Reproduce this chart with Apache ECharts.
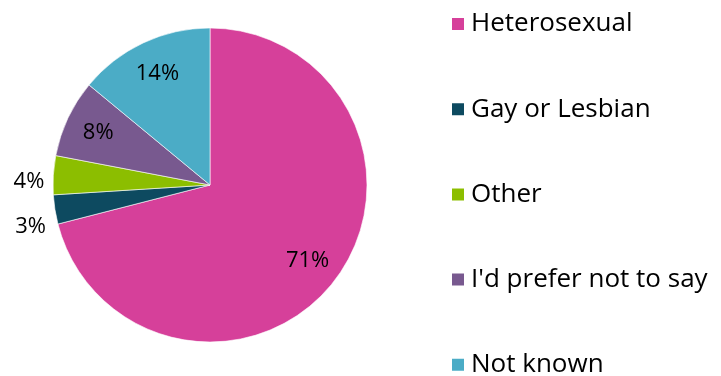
<!DOCTYPE html>
<html>
<head>
<meta charset="utf-8">
<script src="https://cdn.jsdelivr.net/npm/echarts@6/dist/echarts.min.js"></script>
<style>
  html, body { margin: 0; padding: 0; background: #fff; }
  #chart { width: 721px; height: 376px; }
</style>
</head>
<body>
<div id="chart"></div>
<script>
// Sexual orientation breakdown (percent)
const categories = ['Heterosexual', 'Gay or Lesbian', 'Other', "I'd prefer not to say", 'Not known'];
const values = [71, 3, 4, 8, 14];
const colors = ['#D6409A', '#0D4A60', '#8CBE00', '#78598F', '#4BACC6'];
// slices whose label sits inside the wedge; the rest are labelled outside
const insideLabel = [true, false, false, true, true];
// vertical nudge for the outside labels so the two small ones spread apart
const outsideLabelDy = [0, 17, 7, 0, 0];

const FONT = '"Open Sans", "DejaVu Sans", sans-serif';
const center = [210, 185];
const R = 157;

const chart = echarts.init(document.getElementById('chart'), null, { renderer: 'canvas' });

const pieData = categories.map((name, i) => ({
  name,
  value: values[i],
  itemStyle: { color: colors[i] },
  label: { show: !insideLabel[i] }
}));

// Transparent ring used only to place inner labels toward the rim
const labelData = categories.map((name, i) => ({
  name,
  value: values[i],
  itemStyle: { color: 'rgba(0,0,0,0)' },
  label: { show: insideLabel[i] }
}));

chart.setOption({
  animation: false,
  legend: {
    orient: 'vertical',
    left: 450,
    top: 11,
    height: 372,
    padding: 0,
    itemWidth: 14,
    itemHeight: 14,
    itemGap: 59.2,
    icon: 'rect',
    data: categories,
    textStyle: { fontFamily: FONT, fontSize: 26, color: '#000', padding: [0, 0, 0, 1] }
  },
  series: [
    {
      type: 'pie',
      center,
      radius: [0, R],
      startAngle: 90,
      clockwise: true,
      silent: true,
      data: pieData,
      itemStyle: { borderColor: '#fff', borderWidth: 0.6 },
      label: {
        position: 'outside',
        formatter: '{c}%',
        fontFamily: FONT,
        fontSize: 22,
        color: '#000'
      },
      labelLine: { show: false, length: 4, length2: 0 },
      labelLayout: (p) => ({ dy: outsideLabelDy[p.dataIndex] }),
      avoidLabelOverlap: false
    },
    {
      type: 'pie',
      center,
      radius: [84, R],
      startAngle: 90,
      clockwise: true,
      silent: true,
      legendHoverLink: false,
      data: labelData,
      label: {
        position: 'inside',
        formatter: '{c}%',
        fontFamily: FONT,
        fontSize: 22,
        color: '#000'
      },
      labelLine: { show: false }
    }
  ]
});
</script>
</body>
</html>
